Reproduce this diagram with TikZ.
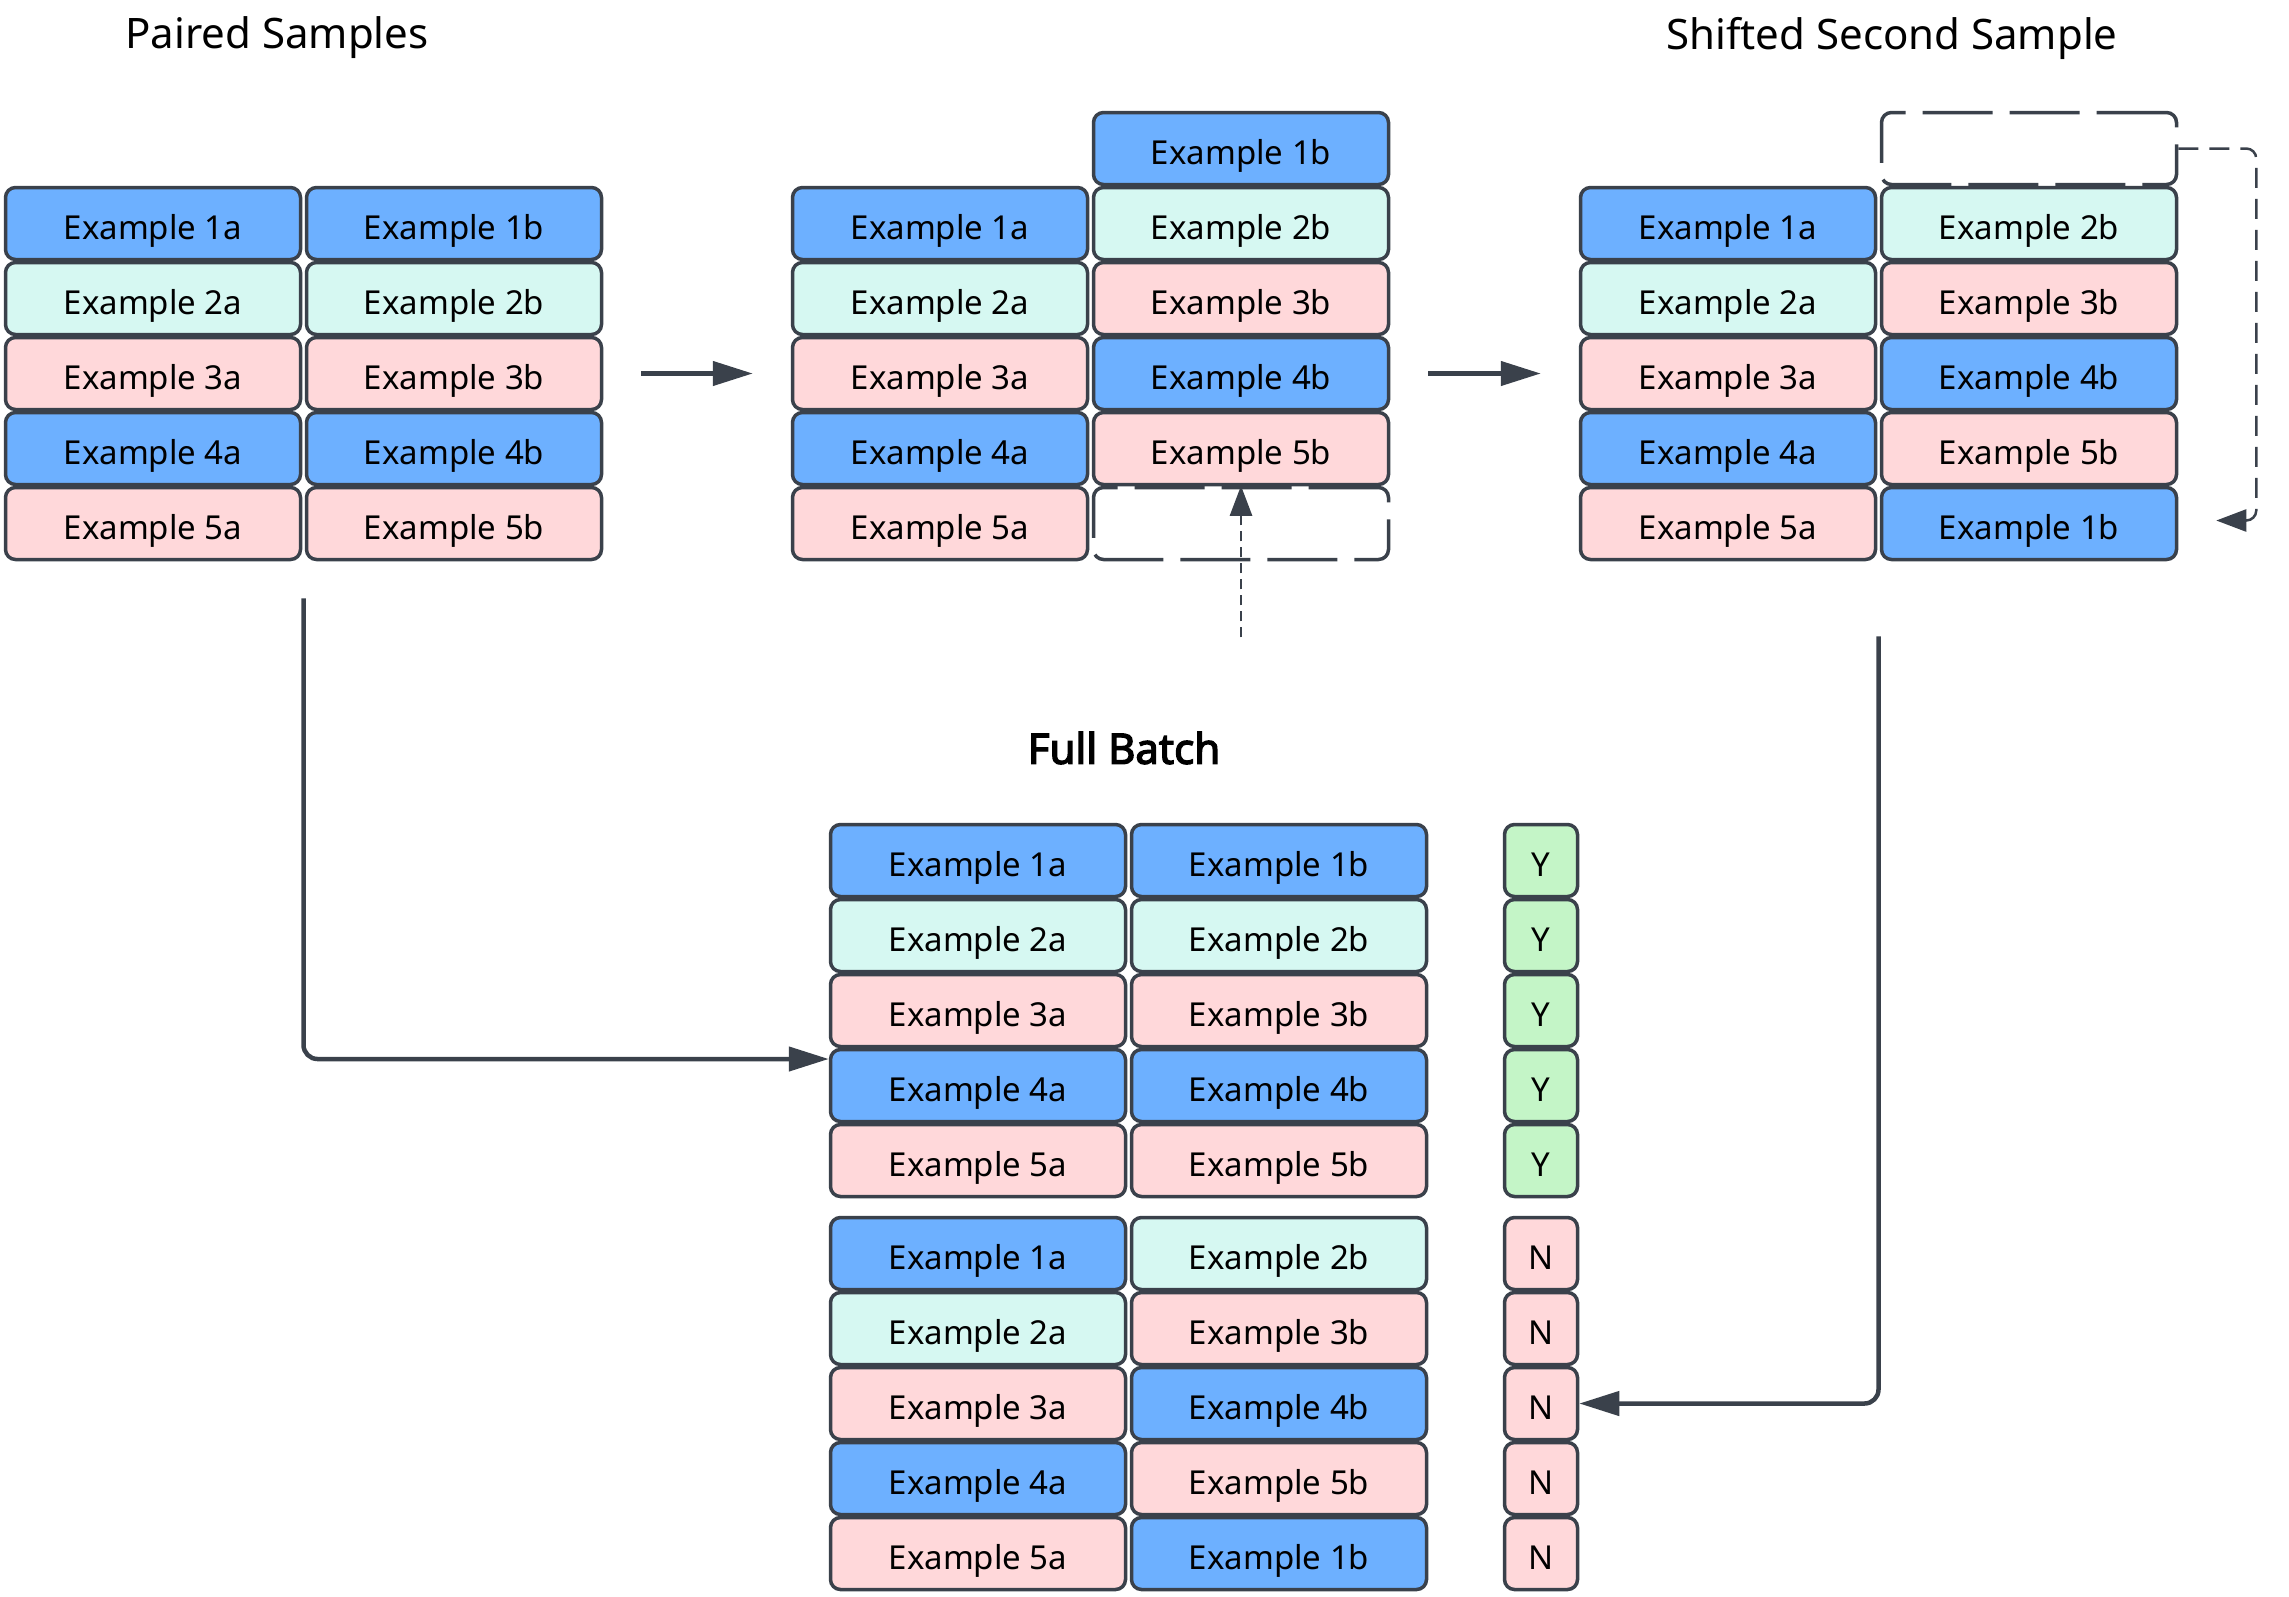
\documentclass[tikz,border=0pt]{standalone}
\usepackage{fontspec}
\setmainfont{Noto Sans}
\newfontfamily\titlebold{Noto Sans}[FakeBold=3.2]
\usetikzlibrary{arrows.meta,calc}
\definecolor{cblue}{HTML}{6DB0FF}
\definecolor{cmint}{HTML}{D6F8F2}
\definecolor{cpink}{HTML}{FFD8DA}
\definecolor{cgreen}{HTML}{C4F5C7}
\definecolor{cline}{HTML}{3A414B}
\begin{document}
\begin{tikzpicture}[x=1pt,y=-1pt,
  cell/.style={draw=cline, line width=3.5pt, rounded corners=10pt, minimum width=295pt,
    minimum height=72pt, inner sep=0pt, text=black, text height=32pt, text depth=0pt,
    font=\fontsize{33}{38}\selectfont},
  yncell/.style={cell, minimum width=73pt},
  emptycell/.style={cell, fill=white, dash pattern=on 70pt off 17pt},
  title/.style={font=\fontsize{42}{50}\selectfont, text=black, inner sep=0pt},
  arr/.style={draw=cline, line width=4.5pt, rounded corners=14pt, -{Triangle[length=40pt,width=24pt]}},
  darr/.style={draw=cline, line width=2.5pt, dash pattern=on 10pt off 6pt, -{Triangle[length=30pt,width=22pt]}},
  darrb/.style={draw=cline, line width=2.5pt, rounded corners=10pt, dash pattern=on 20pt off 11pt, -{Triangle[length=30pt,width=22pt]}}]
\useasboundingbox (0,0) rectangle (2289,1596);

% titles
\node[title] (t1) at (277,38) {Paired Samples};
\node[title] (t3) at (1892,38) {Shifted Second Sample};
\node[title, font=\fontsize{42}{50}\titlebold] (t4) at (1124,748) {Full Batch};

% panel 1
\foreach \i/\t/\c in {1/1/cblue,2/2/cmint,3/3/cpink,4/4/cblue,5/5/cpink}{
  \node[cell, fill=\c] (p1a\i) at (153,{148.5+75*\i}) {Example \t a};
  \node[cell, fill=\c] (p1b\i) at (454,{148.5+75*\i}) {Example \t b};
}

% panel 2
\foreach \i/\t/\c in {1/1/cblue,2/2/cmint,3/3/cpink,4/4/cblue,5/5/cpink}{
  \node[cell, fill=\c] (p2a\i) at (940,{148.5+75*\i}) {Example \t a};
}
\foreach \i/\t/\c in {0/1/cblue,1/2/cmint,2/3/cpink,3/4/cblue,4/5/cpink}{
  \node[cell, fill=\c] (p2b\i) at (1241,{148.5+75*\i}) {Example \t b};
}
\node[emptycell] (p2e) at (1241,523.5) {};

% panel 3
\foreach \i/\t/\c in {1/1/cblue,2/2/cmint,3/3/cpink,4/4/cblue,5/5/cpink}{
  \node[cell, fill=\c] (p3a\i) at (1728,{148.5+75*\i}) {Example \t a};
}
\node[emptycell] (p3e) at (2029,148.5) {};
\foreach \i/\t/\c in {1/2/cmint,2/3/cpink,3/4/cblue,4/5/cpink,5/1/cblue}{
  \node[cell, fill=\c] (p3b\i) at (2029,{148.5+75*\i}) {Example \t b};
}

% full batch, positive pairs
\foreach \i/\t/\c in {1/1/cblue,2/2/cmint,3/3/cpink,4/4/cblue,5/5/cpink}{
  \node[cell, fill=\c] (fa\i) at (978,{785.5+75*\i}) {Example \t a};
  \node[cell, fill=\c] (fb\i) at (1279,{785.5+75*\i}) {Example \t b};
  \node[yncell, fill=cgreen] (fy\i) at (1541,{785.5+75*\i}) {Y};
}
% full batch, negative pairs
\foreach \i/\t/\c in {1/1/cblue,2/2/cmint,3/3/cpink,4/4/cblue,5/5/cpink}{
  \node[cell, fill=\c] (ga\i) at (978,{1178.5+75*\i}) {Example \t a};
  \node[yncell, fill=cpink] (gn\i) at (1541,{1178.5+75*\i}) {N};
}
\foreach \i/\t/\c in {1/2/cmint,2/3/cpink,3/4/cblue,4/5/cpink,5/1/cblue}{
  \node[cell, fill=\c] (gb\i) at (1279,{1178.5+75*\i}) {Example \t b};
}

% arrows between panels
\draw[arr] ([xshift=38pt]p1b3.east) -- ([xshift=-38pt]p2a3.west);
\draw[arr] ([xshift=38pt]p2b3.east) -- ([xshift=-38pt]p3a3.west);

% dashed arrow into empty slot
\coordinate (s2) at ($(p2e.south)+(0,76)$);
\draw[darr] (s2) -- (p2e.north);

% dashed wrap-around arrow
\coordinate (e3) at ($(p3b5.east)+(38,-3)$);
\draw[darrb] (p3e.east) -- ++(78,0) |- (e3);

% long arrows to full batch
\coordinate (s1) at ($(p1a5.south east)!0.5!(p1b5.south west)+(0,37)$);
\coordinate (e1) at ($(fa4.west)+(0,-26.5)$);
\draw[arr] (s1) |- (e1);
\coordinate (s3) at ($(p3a5.south east)!0.5!(p3b5.south west)+(0,75)$);
\draw[arr] (s3) |- (gn3.east);
\end{tikzpicture}
\end{document}
